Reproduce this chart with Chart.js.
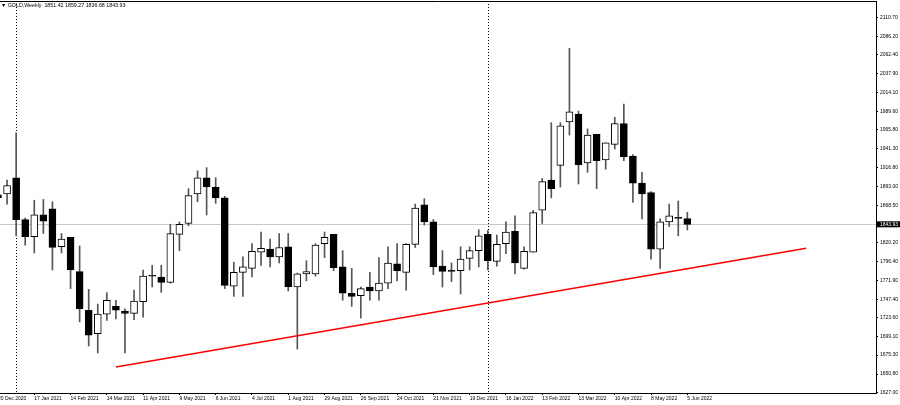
<!DOCTYPE html>
<html><head><meta charset="utf-8">
<script src="https://cdn.jsdelivr.net/npm/chart.js@4.4.1/dist/chart.umd.min.js"></script>
<style>
html,body{margin:0;padding:0;background:#fff;}
#wrap{position:relative;width:900px;height:405px;overflow:hidden;background:#fff;}
#hdr{position:absolute;left:1px;top:2px;font:5.3px 'Liberation Sans',Arial,sans-serif;color:#000;white-space:pre;line-height:6px;}
</style></head><body>
<div id="wrap"><canvas id="c" width="900" height="405"></canvas><div id="hdr">▼ GOLD,Weekly  1851.42 1859.27 1836.68 1843.93</div></div>
<script>
// ---- data (weekly bars, 20 Dec 2020 .. 5 Jun 2022) ----
const xTickLabels = ['20 Dec 2020','17 Jan 2021','14 Feb 2021','14 Mar 2021','11 Apr 2021','9 May 2021','6 Jun 2021','4 Jul 2021','1 Aug 2021','29 Aug 2021','26 Sep 2021','24 Oct 2021','21 Nov 2021','19 Dec 2021','16 Jan 2022','13 Feb 2022','13 Mar 2022','10 Apr 2022','8 May 2022','5 Jun 2022'];
const labelStep = 4; // one date label every 4 weekly bars
const yTickValues = [2110.70,2086.20,2062.40,2037.90,2014.10,1989.60,1965.80,1941.30,1916.80,1893.00,1868.50,1820.20,1796.40,1771.90,1747.40,1723.60,1699.10,1675.30,1650.80,1627.00];
const opens  = [1882,1883,1904,1850,1828,1856,1864,1815,1827,1783,1733,1703,1728,1738,1732,1729,1744,1778,1776,1769,1831,1845,1883,1904,1892,1878,1764,1782,1787,1808,1812,1802,1815,1763,1780,1780,1819,1831,1789,1755,1752,1763,1758,1768,1793,1782,1818,1869,1847,1790,1785,1784,1800,1810,1831,1796,1819,1835,1787,1808,1862,1901,1920,1976,1986,1923,1960,1927,1947,1974,1932,1897,1885,1812,1847,1853,1851.42];
const highs  = [1906,1901,1962,1852,1875,1876,1873,1832,1827,1816,1760,1741,1756,1746,1735,1759,1785,1791,1791,1844,1847,1890,1913,1917,1904,1880,1795,1802,1819,1834,1825,1832,1832,1781,1797,1819,1834,1831,1810,1787,1763,1782,1801,1815,1819,1819,1870,1877,1850,1810,1794,1815,1815,1837,1836,1830,1847,1855,1815,1862,1903,1975,1975,2071,1990,1967,1960,1949,1982,1999,1934,1911,1886,1851,1870,1874,1859.27];
const lows   = [1855,1870,1829,1817,1807,1832,1785,1807,1761,1718,1687,1678,1720,1722,1678,1721,1724,1763,1756,1768,1810,1842,1873,1856,1871,1761,1751,1751,1776,1791,1789,1794,1758,1683,1771,1777,1801,1784,1746,1738,1723,1746,1746,1761,1771,1759,1814,1843,1779,1763,1770,1754,1785,1789,1785,1790,1806,1780,1786,1808,1845,1878,1892,1959,1896,1911,1890,1915,1941,1926,1872,1851,1799,1787,1841,1829,1836.68];
const closes = [1878,1894,1850,1828,1856,1848,1814,1825,1785,1735,1701,1728,1746,1733,1729,1745,1777,1777,1769,1832,1844,1881,1904,1892,1878,1765,1782,1789,1809,1813,1802,1814,1763,1780,1783,1817,1827,1788,1755,1751,1761,1758,1768,1794,1784,1818,1865,1847,1789,1783,1783,1799,1810,1829,1797,1818,1834,1794,1809,1859,1899,1890,1971,1989,1921,1959,1926,1949,1974,1931,1897,1883,1812,1847,1855,1851.42,1843.93];
const yearStartIdx = [2, 54];           // first weekly bar of 2021 and of 2022
const trendAnchors = [{i:13.0, price:1659.8}, {i:89.1, price:1813.0}];

const lastClose = closes[closes.length - 1];
const wicks  = opens.map((o,i)=>({x:i, y:[lows[i], highs[i]]}));
const bodies = opens.map((o,i)=>({x:i, y:[Math.min(o,closes[i]), Math.max(o,closes[i])]}));
const bodyFill = opens.map((o,i)=> closes[i] >= o ? '#ffffff' : '#000000');
const trendData = trendAnchors.map(p=>({x:p.i, y:p.price}));

const FONT = {family:"'Liberation Sans', Arial, sans-serif", size:5};

const overlay = {
  id:'overlay',
  beforeDatasetsDraw(chart){
    const {ctx, chartArea:a, scales:{x,y}} = chart;
    ctx.save();
    ctx.beginPath(); ctx.rect(a.left,a.top,a.right-a.left,a.bottom-a.top); ctx.clip();
    const py = Math.round(y.getPixelForValue(lastClose)) + 0.5;
    ctx.strokeStyle = '#c8c8c8'; ctx.lineWidth = 1;
    ctx.beginPath(); ctx.moveTo(a.left,py); ctx.lineTo(a.right,py); ctx.stroke();
    ctx.strokeStyle = '#000'; ctx.setLineDash([1,2]);
    yearStartIdx.forEach(i=>{
      const px = Math.round(x.getPixelForValue(i)) + 0.5;
      ctx.beginPath(); ctx.moveTo(px,a.top); ctx.lineTo(px,a.bottom); ctx.stroke();
    });
    ctx.restore();
  }
};

new Chart(document.getElementById('c'), {
  type:'bar',
  data:{ datasets:[
    {type:'line', label:'Trend', data:trendData, borderColor:'#ff0000', borderWidth:1.5, pointRadius:0, fill:false, order:0, xAxisID:'x', yAxisID:'y'},
    {label:'Body', data:bodies, backgroundColor:bodyFill, borderColor:'#000', borderWidth:1, borderSkipped:false, barThickness:7, grouped:false, order:1, xAxisID:'x', yAxisID:'y'},
    {label:'Wick', data:wicks, backgroundColor:'#555', borderWidth:0, barThickness:1, grouped:false, order:2, xAxisID:'x', yAxisID:'y'}
  ]},
  options:{
    responsive:false, maintainAspectRatio:false, animation:false, devicePixelRatio:1,
    layout:{padding:0},
    plugins:{legend:{display:false}, tooltip:{enabled:false}, title:{display:false}},
    scales:{
      x:{ type:'linear', position:'bottom', min:0.2205, max:96.8, offset:false,
        afterBuildTicks:s=>{ s.ticks = xTickLabels.map((_,k)=>({value:k*labelStep})); },
        afterFit:s=>{ s.height = 12; s.paddingLeft = 0; s.paddingRight = 0; },
        ticks:{ autoSkip:false, maxRotation:0, minRotation:0, align:'start', padding:1, font:FONT, color:'#000',
          callback:v=> xTickLabels[Math.round(v/labelStep)] },
        grid:{ display:true, drawOnChartArea:false, drawTicks:true, tickLength:2, color:'#000', offset:false },
        border:{ display:true, color:'#000', width:1 } },
      x2:{ type:'linear', position:'top', min:0, max:1, offset:false,
        afterFit:s=>{ s.height = 1; s.paddingLeft = 0; s.paddingRight = 0; },
        ticks:{display:false}, grid:{display:false, drawTicks:false},
        border:{ display:true, color:'#000', width:1 } },
      y:{ position:'right', min:1626.3, max:2132.0,
        afterBuildTicks:s=>{ s.ticks = yTickValues.concat([lastClose]).sort((a,b)=>a-b).map(v=>({value:v})); },
        afterFit:s=>{ s.width = 24; s.paddingTop = 0; s.paddingBottom = 0; },
        ticks:{ autoSkip:false, padding:2, font:FONT,
          color:c=> (c.tick && c.tick.value===lastClose) ? '#fff' : '#000',
          showLabelBackdrop:c=> !!(c.tick && c.tick.value===lastClose),
          backdropColor:'#000', backdropPadding:{top:0,bottom:0,left:3,right:3},
          callback:v=> Number(v).toFixed(2) },
        grid:{ display:true, drawOnChartArea:false, drawTicks:true, tickLength:2, color:'#000' },
        border:{ display:true, color:'#000', width:1 } }
    }
  },
  plugins:[overlay]
});
</script>
</body></html>
